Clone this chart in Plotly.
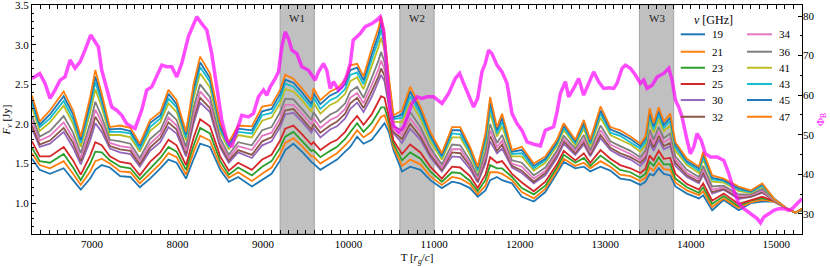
import plotly.graph_objects as go

# ---------------- data ----------------
T = [6300, 6390, 6510, 6670, 6780, 6870, 6980, 7040, 7115, 7210, 7330, 7450, 7560, 7680, 7800, 7895, 7990, 8100, 8190, 8265, 8380, 8500, 8600,
     8710, 8870, 8990, 9100, 9200, 9260, 9355, 9455, 9565, 9590, 9670, 9785, 9865, 9960, 10020, 10100, 10175, 10270, 10350, 10380, 10420, 10470, 10525, 10625, 10720, 10840,
     10955, 11090, 11210, 11305, 11420, 11510, 11600, 11655, 11735, 11795, 11910, 12025, 12165, 12300, 12435, 12515, 12650, 12750, 12825, 12945, 13060, 13175,
     13295, 13410, 13470, 13520, 13565, 13625, 13685, 13760, 13820, 13955, 14095, 14145, 14250, 14385, 14560, 14700, 14835, 14970, 15125, 15225, 15300]

F19 = [1.56, 1.42, 1.37, 1.44, 1.29, 1.17, 1.31, 1.42, 1.48, 1.45, 1.34, 1.33, 1.20, 1.31, 1.44, 1.55, 1.51, 1.31, 1.56, 1.75, 1.71, 1.42, 1.27,
       1.33, 1.21, 1.29, 1.37, 1.54, 1.67, 1.75, 1.65, 1.52, 1.50, 1.42, 1.50, 1.55, 1.65, 1.71, 1.84, 1.75, 1.80, 1.92, 1.96, 2.01, 1.90, 1.67, 1.40, 1.46, 1.42,
       1.29, 1.19, 1.27, 1.25, 1.19, 1.08, 1.16, 1.29, 1.33, 1.29, 1.25, 1.08, 1.02, 1.14, 1.37, 1.52, 1.44, 1.46, 1.40, 1.46, 1.41, 1.31,
       1.29, 1.23, 1.27, 1.37, 1.35, 1.44, 1.37, 1.35, 1.21, 1.12, 1.06, 1.10, 0.91, 1.04, 0.91, 1.00, 1.02, 1.02, 0.93, 0.88, 0.91]

F21 = [1.63, 1.48, 1.44, 1.53, 1.37, 1.23, 1.40, 1.53, 1.56, 1.50, 1.40, 1.39, 1.25, 1.38, 1.50, 1.63, 1.58, 1.36, 1.65, 1.85, 1.79, 1.47, 1.32,
       1.39, 1.28, 1.37, 1.45, 1.62, 1.76, 1.82, 1.72, 1.59, 1.59, 1.50, 1.58, 1.63, 1.73, 1.80, 1.92, 1.83, 1.90, 2.04, 2.09, 2.11, 1.96, 1.71, 1.47, 1.55, 1.49,
       1.34, 1.23, 1.33, 1.31, 1.24, 1.11, 1.22, 1.39, 1.39, 1.37, 1.29, 1.14, 1.06, 1.18, 1.41, 1.56, 1.47, 1.51, 1.44, 1.53, 1.46, 1.36,
       1.34, 1.28, 1.32, 1.45, 1.41, 1.51, 1.43, 1.42, 1.26, 1.16, 1.10, 1.15, 0.95, 1.06, 0.94, 1.01, 1.04, 1.02, 0.93, 0.88, 0.91]

F23 = [1.70, 1.53, 1.51, 1.62, 1.45, 1.29, 1.50, 1.65, 1.64, 1.54, 1.46, 1.44, 1.30, 1.44, 1.57, 1.71, 1.65, 1.42, 1.73, 1.95, 1.88, 1.53, 1.36,
       1.45, 1.35, 1.46, 1.53, 1.70, 1.84, 1.90, 1.79, 1.66, 1.67, 1.58, 1.66, 1.71, 1.81, 1.90, 2.01, 1.90, 2.01, 2.15, 2.21, 2.21, 2.03, 1.75, 1.54, 1.64, 1.56,
       1.40, 1.27, 1.39, 1.38, 1.28, 1.15, 1.29, 1.48, 1.44, 1.44, 1.33, 1.19, 1.11, 1.22, 1.45, 1.61, 1.51, 1.57, 1.47, 1.60, 1.51, 1.42,
       1.39, 1.32, 1.37, 1.52, 1.47, 1.58, 1.49, 1.49, 1.31, 1.20, 1.13, 1.20, 0.99, 1.09, 0.96, 1.03, 1.06, 1.03, 0.93, 0.88, 0.91]

F25 = [1.78, 1.59, 1.59, 1.71, 1.54, 1.36, 1.60, 1.77, 1.73, 1.59, 1.52, 1.50, 1.35, 1.52, 1.64, 1.80, 1.73, 1.48, 1.83, 2.06, 1.97, 1.59, 1.41,
       1.51, 1.42, 1.55, 1.61, 1.79, 1.94, 1.98, 1.87, 1.74, 1.77, 1.67, 1.76, 1.80, 1.90, 2.00, 2.10, 1.99, 2.12, 2.28, 2.35, 2.33, 2.10, 1.79, 1.62, 1.74, 1.64,
       1.46, 1.31, 1.46, 1.45, 1.34, 1.19, 1.36, 1.58, 1.51, 1.53, 1.37, 1.26, 1.15, 1.27, 1.49, 1.66, 1.54, 1.63, 1.51, 1.67, 1.56, 1.48,
       1.44, 1.38, 1.43, 1.60, 1.54, 1.66, 1.56, 1.57, 1.37, 1.24, 1.17, 1.25, 1.03, 1.12, 0.99, 1.04, 1.08, 1.03, 0.93, 0.88, 0.92]

F30 = [1.94, 1.71, 1.75, 1.90, 1.70, 1.49, 1.79, 2.01, 1.90, 1.69, 1.64, 1.62, 1.46, 1.66, 1.77, 1.96, 1.88, 1.59, 2.01, 2.27, 2.15, 1.70, 1.51,
       1.64, 1.57, 1.73, 1.78, 1.96, 2.12, 2.14, 2.03, 1.89, 1.95, 1.83, 1.93, 1.97, 2.07, 2.19, 2.27, 2.15, 2.34, 2.53, 2.62, 2.54, 2.23, 1.88, 1.76, 1.94, 1.80,
       1.58, 1.40, 1.59, 1.58, 1.43, 1.26, 1.50, 1.78, 1.63, 1.69, 1.45, 1.38, 1.25, 1.35, 1.57, 1.75, 1.61, 1.74, 1.59, 1.82, 1.67, 1.60,
       1.55, 1.47, 1.54, 1.76, 1.66, 1.80, 1.68, 1.72, 1.47, 1.33, 1.25, 1.36, 1.12, 1.17, 1.05, 1.08, 1.13, 1.04, 0.93, 0.88, 0.92]

F32 = [1.98, 1.74, 1.79, 1.95, 1.76, 1.53, 1.86, 2.09, 1.96, 1.72, 1.68, 1.66, 1.49, 1.70, 1.82, 2.02, 1.93, 1.62, 2.06, 2.33, 2.20, 1.73, 1.54,
       1.67, 1.61, 1.78, 1.83, 2.01, 2.17, 2.19, 2.07, 1.93, 2.00, 1.89, 1.98, 2.03, 2.13, 2.26, 2.33, 2.20, 2.41, 2.60, 2.70, 2.61, 2.27, 1.90, 1.81, 2.00, 1.84,
       1.61, 1.42, 1.64, 1.63, 1.47, 1.28, 1.54, 1.85, 1.66, 1.74, 1.47, 1.41, 1.27, 1.38, 1.60, 1.78, 1.63, 1.77, 1.61, 1.86, 1.70, 1.63,
       1.58, 1.51, 1.57, 1.81, 1.70, 1.85, 1.72, 1.76, 1.51, 1.35, 1.27, 1.39, 1.14, 1.18, 1.07, 1.08, 1.14, 1.04, 0.93, 0.88, 0.92]

F34 = [2.04, 1.79, 1.85, 2.02, 1.82, 1.57, 1.93, 2.18, 2.02, 1.76, 1.72, 1.70, 1.53, 1.75, 1.87, 2.08, 1.98, 1.66, 2.13, 2.41, 2.27, 1.77, 1.57,
       1.72, 1.67, 1.85, 1.89, 2.07, 2.24, 2.24, 2.13, 1.99, 2.07, 1.95, 2.05, 2.09, 2.19, 2.33, 2.39, 2.26, 2.49, 2.69, 2.80, 2.69, 2.32, 1.93, 1.86, 2.07, 1.90,
       1.66, 1.45, 1.68, 1.68, 1.50, 1.31, 1.59, 1.92, 1.71, 1.79, 1.50, 1.46, 1.31, 1.41, 1.63, 1.81, 1.66, 1.81, 1.64, 1.92, 1.74, 1.68,
       1.62, 1.54, 1.61, 1.87, 1.75, 1.90, 1.77, 1.82, 1.55, 1.38, 1.30, 1.43, 1.17, 1.20, 1.09, 1.10, 1.16, 1.04, 0.93, 0.88, 0.92]

F36 = [2.10, 1.84, 1.91, 2.10, 1.89, 1.63, 2.01, 2.28, 2.09, 1.80, 1.78, 1.75, 1.57, 1.81, 1.92, 2.15, 2.05, 1.71, 2.21, 2.50, 2.34, 1.82, 1.61,
       1.77, 1.73, 1.92, 1.96, 2.15, 2.32, 2.31, 2.19, 2.05, 2.15, 2.02, 2.12, 2.16, 2.26, 2.41, 2.47, 2.33, 2.58, 2.80, 2.91, 2.78, 2.38, 1.97, 1.92, 2.15, 1.96,
       1.70, 1.49, 1.74, 1.73, 1.54, 1.34, 1.65, 2.00, 1.76, 1.86, 1.54, 1.51, 1.35, 1.45, 1.66, 1.85, 1.69, 1.86, 1.67, 1.98, 1.78, 1.72,
       1.66, 1.58, 1.66, 1.93, 1.80, 1.96, 1.82, 1.88, 1.59, 1.42, 1.33, 1.47, 1.21, 1.22, 1.11, 1.11, 1.18, 1.05, 0.93, 0.88, 0.92]

F41 = [2.21, 1.91, 2.02, 2.23, 2.00, 1.71, 2.14, 2.44, 2.21, 1.86, 1.86, 1.83, 1.65, 1.91, 2.02, 2.26, 2.15, 1.79, 2.33, 2.64, 2.46, 1.90, 1.68,
       1.86, 1.83, 2.04, 2.08, 2.26, 2.44, 2.41, 2.30, 2.15, 2.27, 2.13, 2.24, 2.28, 2.38, 2.54, 2.59, 2.44, 2.73, 2.97, 3.09, 2.93, 2.47, 2.03, 2.02, 2.28, 2.07,
       1.78, 1.55, 1.83, 1.83, 1.61, 1.39, 1.74, 2.14, 1.84, 1.97, 1.59, 1.59, 1.41, 1.51, 1.72, 1.92, 1.73, 1.94, 1.72, 2.08, 1.86, 1.80,
       1.74, 1.65, 1.73, 2.04, 1.89, 2.06, 1.91, 1.98, 1.66, 1.48, 1.38, 1.55, 1.27, 1.26, 1.15, 1.13, 1.21, 1.05, 0.93, 0.88, 0.93]

F43 = [2.26, 1.96, 2.07, 2.29, 2.06, 1.76, 2.22, 2.53, 2.27, 1.90, 1.90, 1.88, 1.68, 1.96, 2.07, 2.32, 2.21, 1.83, 2.40, 2.72, 2.53, 1.94, 1.71,
       1.90, 1.88, 2.11, 2.14, 2.32, 2.51, 2.47, 2.35, 2.21, 2.34, 2.19, 2.30, 2.34, 2.44, 2.62, 2.65, 2.50, 2.81, 3.06, 3.19, 3.00, 2.52, 2.06, 2.08, 2.35, 2.12,
       1.83, 1.58, 1.88, 1.87, 1.65, 1.41, 1.79, 2.21, 1.88, 2.03, 1.62, 1.63, 1.44, 1.54, 1.75, 1.95, 1.76, 1.98, 1.75, 2.13, 1.89, 1.85,
       1.77, 1.69, 1.77, 2.10, 1.93, 2.12, 1.95, 2.04, 1.70, 1.51, 1.41, 1.58, 1.30, 1.28, 1.17, 1.14, 1.22, 1.06, 0.93, 0.88, 0.93]

F45 = [2.31, 1.99, 2.12, 2.35, 2.12, 1.80, 2.28, 2.60, 2.33, 1.93, 1.94, 1.91, 1.72, 2.01, 2.11, 2.38, 2.25, 1.87, 2.45, 2.78, 2.58, 1.97, 1.74,
       1.94, 1.92, 2.16, 2.19, 2.38, 2.56, 2.52, 2.40, 2.25, 2.39, 2.25, 2.36, 2.40, 2.50, 2.68, 2.71, 2.55, 2.88, 3.13, 3.28, 3.07, 2.56, 2.08, 2.12, 2.41, 2.17,
       1.86, 1.60, 1.92, 1.92, 1.68, 1.44, 1.84, 2.28, 1.92, 2.08, 1.65, 1.67, 1.47, 1.56, 1.77, 1.98, 1.78, 2.01, 1.78, 2.17, 1.93, 1.88,
       1.81, 1.72, 1.81, 2.15, 1.97, 2.16, 1.99, 2.08, 1.74, 1.53, 1.44, 1.62, 1.32, 1.29, 1.19, 1.15, 1.24, 1.06, 0.93, 0.88, 0.93]

F47 = [2.36, 2.03, 2.17, 2.41, 2.17, 1.84, 2.34, 2.68, 2.38, 1.96, 1.98, 1.95, 1.75, 2.05, 2.15, 2.43, 2.30, 1.90, 2.51, 2.85, 2.64, 2.01, 1.77,
       1.98, 1.97, 2.22, 2.24, 2.43, 2.62, 2.57, 2.45, 2.30, 2.45, 2.30, 2.41, 2.45, 2.55, 2.74, 2.76, 2.60, 2.95, 3.21, 3.36, 3.14, 2.60, 2.11, 2.17, 2.47, 2.22,
       1.90, 1.63, 1.96, 1.96, 1.71, 1.46, 1.88, 2.34, 1.96, 2.13, 1.67, 1.71, 1.50, 1.59, 1.80, 2.01, 1.80, 2.05, 1.80, 2.22, 1.96, 1.92,
       1.84, 1.75, 1.84, 2.20, 2.01, 2.21, 2.03, 2.13, 1.77, 1.56, 1.46, 1.65, 1.35, 1.31, 1.21, 1.16, 1.25, 1.06, 0.93, 0.88, 0.93]

freq_labels = ["19", "21", "23", "25", "30", "32", "34", "36", "41", "43", "45", "47"]
flux_series = [F19, F21, F23, F25, F30, F32, F34, F36, F41, F43, F45, F47]
series_colors = ["#1f77b4", "#ff7f0e", "#2ca02c", "#d62728", "#9467bd", "#8c564b",
                 "#e377c2", "#7f7f7f", "#bcbd22", "#17becf", "#1f77b4", "#ff7f0e"]

phi_T = [6300, 6390, 6452, 6511, 6569, 6628, 6686, 6745, 6803, 6862, 6920, 6986, 7037, 7076, 7115, 7173, 7232, 7290, 7349, 7407,
         7465, 7505, 7582, 7641, 7700, 7758, 7817, 7875, 7934, 7992, 8050, 8128, 8226, 8284, 8343, 8401, 8460, 8518, 8577, 8635,
         8694, 8752, 8830, 8889, 8947, 9006, 9045, 9084, 9142, 9181, 9220, 9259, 9298, 9337, 9396, 9454, 9532, 9610, 9649, 9707,
         9746, 9785, 9824, 9883, 9922, 9980, 10020, 10054, 10097, 10136, 10195, 10273, 10331, 10370, 10409, 10448, 10487, 10526, 10585, 10643,
         10682, 10741, 10799, 10858, 10916, 10994, 11092, 11169, 11247, 11298, 11345, 11403, 11462, 11509, 11559, 11598, 11637, 11676, 11735, 11793,
         11852, 11910, 11969, 12027, 12086, 12164, 12242, 12300, 12397, 12437, 12476, 12534, 12573, 12631, 12690, 12748, 12807, 12865, 12924, 12982,
         13041, 13099, 13138, 13197, 13236, 13294, 13353, 13411, 13450, 13489, 13548, 13606, 13684, 13743, 13782, 13821, 13859, 13898, 13957, 13996,
         14035, 14074, 14121, 14171, 14230, 14308, 14386, 14444, 14503, 14561, 14620, 14698, 14776, 14815, 14854, 14912, 14971, 15029, 15088, 15146,
         15185, 15244, 15300]

phi = [64.2, 65.5, 63.0, 59.2, 61.3, 63.8, 64.6, 68.9, 66.8, 68.4, 71.4, 75.2, 73.5, 72.2, 66.3, 61.3, 57.0, 56.2, 54.9, 52.8,
       52.0, 51.6, 56.2, 61.3, 62.1, 65.1, 67.6, 67.2, 67.2, 64.6, 68.0, 74.8, 79.8, 78.1, 76.5, 70.5, 61.3, 53.7, 48.6, 46.9,
       51.1, 54.9, 54.5, 55.4, 59.6, 61.3, 60.0, 62.1, 64.2, 65.9, 72.2, 76.0, 74.3, 71.4, 70.5, 67.2, 66.3, 63.8, 65.9, 68.0,
       66.3, 61.7, 63.4, 61.3, 62.1, 65.0, 68.0, 73.9, 74.8, 75.6, 77.3, 78.1, 79.0, 79.8, 76.5, 67.2, 56.2, 52.4, 50.7, 52.0,
       54.5, 57.9, 59.6, 59.2, 59.6, 59.6, 57.9, 60.4, 64.2, 65.5, 63.0, 60.0, 57.0, 59.2, 65.9, 68.0, 71.4, 70.5, 67.6, 65.9,
       63.0, 55.4, 52.8, 51.1, 48.2, 47.6, 47.2, 51.1, 52.0, 55.8, 60.4, 63.4, 59.6, 61.7, 64.2, 60.0, 63.0, 65.9, 63.4, 61.7,
       61.9, 61.7, 63.0, 66.8, 67.6, 66.8, 65.1, 63.0, 63.8, 61.7, 62.5, 64.6, 65.5, 66.8, 63.8, 58.7, 57.0, 54.5, 48.6, 45.2,
       46.9, 50.3, 48.6, 45.2, 44.4, 44.4, 43.5, 40.2, 35.9, 32.6, 31.3, 30.0, 28.8, 27.7, 29.2, 30.0, 30.9, 31.3, 31.3, 30.9,
       31.3, 32.6, 33.8]

win_start = [9200, 10600, 13400]
win_end = [9600, 11000, 13800]
win_labels = ["W1", "W2", "W3"]

# ---------------- figure ----------------
FONT = "Liberation Serif, DejaVu Serif, Times New Roman, serif"

fig = go.Figure()

for s, e, lab in zip(win_start, win_end, win_labels):
    fig.add_vrect(x0=s, x1=e, fillcolor="rgb(192,192,192)", opacity=1,
                  line=dict(color="rgb(165,165,165)", width=1), layer="below")
    fig.add_annotation(x=(s + e) / 2, y=0.945, xref="x", yref="paper", text=lab,
                       showarrow=False, font=dict(family=FONT, size=11, color="#222"),
                       yanchor="middle")

for i, (lab, ys, col) in enumerate(zip(freq_labels, flux_series, series_colors)):
    fig.add_trace(go.Scatter(x=T, y=ys, mode="lines", name=lab,
                             line=dict(color=col, width=1.8),
                             showlegend=False, hoverinfo="skip"))

fig.add_trace(go.Scatter(x=phi_T, y=phi, yaxis="y2", mode="lines",
                         line=dict(color="rgba(255,0,255,0.7)", width=3.5),
                         showlegend=False, hoverinfo="skip"))

# ---- legend (two columns, drawn in paper coordinates) ----
fig.add_annotation(x=0.913, y=0.936, xref="paper", yref="paper",
                   text="<i>ν</i> [GHz]", showarrow=False, yanchor="middle",
                   font=dict(family=FONT, size=12, color="black"))
row_y = [0.872, 0.796, 0.726, 0.655, 0.585, 0.512]
col_line_x = [(0.8425, 0.874), (0.9286, 0.961)]
col_text_x = [0.8805, 0.9675]
for i, (lab, col) in enumerate(zip(freq_labels, series_colors)):
    c, r = divmod(i, 6)
    x0, x1 = col_line_x[c]
    fig.add_shape(type="line", xref="paper", yref="paper", x0=x0, x1=x1,
                  y0=row_y[r], y1=row_y[r], line=dict(color=col, width=2))
    fig.add_annotation(x=col_text_x[c], y=row_y[r], xref="paper", yref="paper",
                       text=lab, showarrow=False, xanchor="left", yanchor="middle",
                       font=dict(family=FONT, size=11, color="black"))

axis_common = dict(showgrid=False, zeroline=False, ticks="inside", ticklen=4,
                   tickwidth=1, tickcolor="black", linecolor="black", linewidth=1.2,
                   ticklabeloverflow="allow",
                   tickfont=dict(family=FONT, size=11, color="black"))

fig.update_layout(
    width=830, height=267,
    margin=dict(l=32, r=28, t=5, b=33, autoexpand=False),
    paper_bgcolor="white", plot_bgcolor="white",
    font=dict(family=FONT, size=11, color="black"),
    showlegend=False,
    xaxis=dict(range=[6300, 15300], dtick=1000, tick0=0, tickformat="d",
               showline=True, mirror="allticks", automargin=False,
               minor=dict(dtick=100, ticks="inside", ticklen=2, tickcolor="black"),
               title=dict(text="T [<i>r<sub>g</sub></i>/<i>c</i>]", standoff=4,
                          font=dict(family=FONT, size=11)),
               **axis_common),
    yaxis=dict(range=[0.61, 3.502], dtick=0.5, tick0=0, tickformat=".1f",
               showline=True, mirror=True, automargin=False,
               minor=dict(dtick=0.1, ticks="inside", ticklen=2, tickcolor="black"),
               title=dict(text="<i>F</i><sub><i>ν</i></sub> [Jy]", standoff=3,
                          font=dict(family=FONT, size=11)),
               **axis_common),
    yaxis2=dict(range=[24.9, 82.8], dtick=10, tick0=0, overlaying="y", side="right",
                showline=False, automargin=False,
                minor=dict(dtick=5, ticks="inside", ticklen=2, tickcolor="black"),
                title=dict(text="Φ<sub>B</sub>", standoff=2,
                           font=dict(family=FONT, size=11, color="magenta")),
                **axis_common),
)

fig.write_html("out.html", config={"displayModeBar": False},
               post_script="document.body.style.margin='0';document.body.style.padding='0';")
